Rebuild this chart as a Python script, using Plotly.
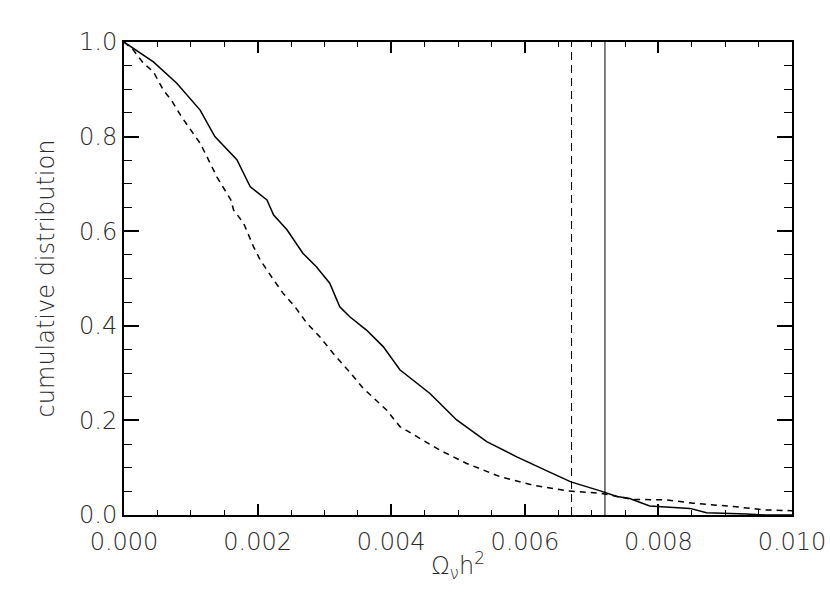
import plotly.graph_objects as go

# cumulative distributions
solid_x = [0.0, 0.00044, 0.00079, 0.00114, 0.00136, 0.00169, 0.00189, 0.00214, 0.00224,
           0.00244, 0.00268, 0.00288, 0.00308, 0.00323, 0.00338, 0.00363, 0.00388, 0.00413,
           0.00458, 0.00498, 0.00543, 0.00588, 0.00638, 0.00669, 0.00713, 0.00738, 0.00757,
           0.00787, 0.00847, 0.00872, 0.00932, 0.00960, 0.0100]
solid_y = [1.0, 0.958, 0.913, 0.856, 0.800, 0.751, 0.694, 0.666, 0.634,
           0.603, 0.553, 0.525, 0.490, 0.440, 0.419, 0.391, 0.356, 0.307,
           0.257, 0.201, 0.155, 0.123, 0.090, 0.070, 0.051, 0.039, 0.035,
           0.019, 0.014, 0.005, 0.002, 0.0, 0.0]

dashed_x = [0.0, 0.00014, 0.00029, 0.00044, 0.00059, 0.00071, 0.00086, 0.00114, 0.00124,
            0.00139, 0.00154, 0.00160, 0.00164, 0.00179, 0.00194, 0.00204, 0.00224, 0.00238,
            0.00256, 0.00274, 0.00293, 0.00313, 0.00338, 0.00358, 0.00393, 0.00413, 0.00438,
            0.00473, 0.00513, 0.00563, 0.00613, 0.00663, 0.00713, 0.00762, 0.00812, 0.00852,
            0.00912, 0.00957, 0.0100]
dashed_y = [1.0, 0.983, 0.955, 0.937, 0.898, 0.877, 0.842, 0.786, 0.758,
            0.715, 0.680, 0.666, 0.645, 0.617, 0.567, 0.539, 0.497, 0.469,
            0.440, 0.405, 0.377, 0.342, 0.302, 0.268, 0.222, 0.187, 0.166,
            0.137, 0.109, 0.081, 0.063, 0.051, 0.046, 0.033, 0.032, 0.025,
            0.018, 0.011, 0.009]

# observed values (vertical markers)
vline_solid = 0.0072
vline_dashed = 0.0067

x_ticks = [0.000, 0.002, 0.004, 0.006, 0.008, 0.010]
x_ticklabels = ["0.000", "0.002", "0.004", "0.006", "0.008", "0.010"]
y_ticks = [0.0, 0.2, 0.4, 0.6, 0.8, 1.0]
y_ticklabels = ["0.0", "0.2", "0.4", "0.6", "0.8", "1.0"]

fnt = dict(family="DejaVu Sans", size=24, color="#2a2a2a", weight=200)

fig = go.Figure()
fig.add_trace(go.Scatter(x=solid_x, y=solid_y, mode="lines",
                         line=dict(color="black", width=1.5), hoverinfo="skip"))
fig.add_trace(go.Scatter(x=dashed_x, y=dashed_y, mode="lines",
                         line=dict(color="black", width=1.5, dash="6px,5px"), hoverinfo="skip"))
fig.add_trace(go.Scatter(x=[vline_solid, vline_solid], y=[0, 1], mode="lines",
                         line=dict(color="black", width=1), hoverinfo="skip"))
fig.add_trace(go.Scatter(x=[vline_dashed, vline_dashed], y=[0, 1], mode="lines",
                         line=dict(color="black", width=1, dash="8px,5px"), hoverinfo="skip"))

fig.update_layout(
    width=830, height=594,
    margin=dict(l=124, r=38, t=42, b=79),
    paper_bgcolor="white", plot_bgcolor="white",
    showlegend=False,
    font=fnt,
    xaxis=dict(
        range=[0, 0.010], tickvals=x_ticks, ticktext=x_ticklabels,
        ticks="inside", ticklen=11, tickwidth=1.5, tickcolor="black",
        minor=dict(dtick=0.0005, ticks="inside", ticklen=5, tickwidth=1, tickcolor="black"),
        showline=True, linecolor="black", linewidth=2, mirror="ticks",
        showgrid=False, zeroline=False, tickfont=fnt, ticklabelstandoff=4,
        automargin=False, ticklabeloverflow="allow",
        title=dict(text="Ω<sub>ν</sub>h<sup>2</sup>", font=fnt, standoff=2),
    ),
    yaxis=dict(
        range=[0, 1], tickvals=y_ticks, ticktext=y_ticklabels,
        ticks="inside", ticklen=15, tickwidth=1.5, tickcolor="black",
        minor=dict(dtick=0.05, ticks="inside", ticklen=8, tickwidth=1, tickcolor="black"),
        showline=True, linecolor="black", linewidth=2, mirror="ticks",
        showgrid=False, zeroline=False, tickfont=fnt, automargin=False,
        title=dict(text="cumulative distribution", font=fnt, standoff=18),
    ),
)

# drop the default page margin so the figure sits at the window's corner
fig.write_html("out.html", config={"displayModeBar": False},
               post_script="document.body.style.margin='0';")
